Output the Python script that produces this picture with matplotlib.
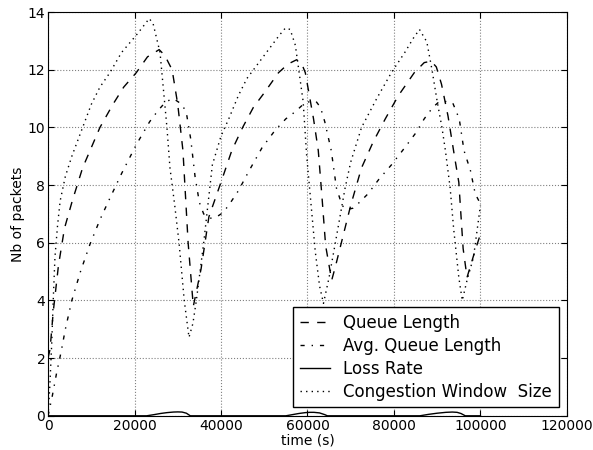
import matplotlib
matplotlib.use("Agg")
from matplotlib import pyplot as plt

# queue length (dashed)
queue_t = [0, 460, 1200, 2400, 3800, 5600, 8000, 10000, 12000, 15000, 17500, 20400,
           23000, 25700, 27000, 28700, 30000, 31200, 32400, 33600, 35400, 37200,
           40000, 42500, 45000, 47500, 50000, 53300, 55500, 57500, 58700, 59500,
           61400, 62500, 63300, 64200, 65600, 66500, 68000, 70000, 72500, 75200,
           78000, 81000, 84700, 87000, 88600, 89800, 91000, 92500, 94000, 95000,
           96000, 96900, 98500, 100000]
queue_len = [2.0, 2.3, 3.6, 5.2, 6.5, 7.45, 8.6, 9.3, 10.0, 10.8, 11.4, 11.9,
             12.45, 12.7, 12.5, 12.0, 10.8, 9.2, 6.0, 3.8, 5.1, 6.9,
             8.1, 9.2, 10.0, 10.7, 11.2, 11.9, 12.2, 12.35, 12.2, 11.9,
             10.3, 9.2, 7.7, 5.9, 4.7, 5.2, 6.1, 7.3, 8.6, 9.5,
             10.3, 11.1, 11.9, 12.25, 12.3, 12.1, 11.5, 10.4, 9.0, 8.1,
             5.8, 4.8, 5.6, 6.3]

# average queue length (dash-dot)
avg_t = [0, 1000, 2000, 3000, 4000, 5500, 7500, 9700, 12000, 14000, 17000, 20400,
         23500, 25500, 27300, 29000, 31000, 32000, 33000, 34000, 35000, 36000,
         37500, 39000, 40500, 42000, 44000, 46500, 49500, 52500, 55000, 57200,
         59000, 60500, 62000, 63000, 64000, 65500, 66700, 68000, 69000, 70500,
         72000, 74000, 76500, 79400, 82500, 85000, 87000, 89000, 90500, 92000,
         93600, 95100, 96200, 97700, 98800, 100000]
avg_len = [0.0, 0.7, 1.5, 2.2, 3.0, 4.0, 5.0, 5.95, 6.8, 7.45, 8.4, 9.4,
           10.2, 10.6, 10.9, 11.0, 10.8, 10.5, 9.6, 8.3, 7.4, 7.0,
           6.85, 6.9, 7.05, 7.35, 7.8, 8.5, 9.3, 9.9, 10.3, 10.55,
           10.8, 10.9, 10.9, 10.7, 10.2, 9.2, 7.9, 7.3, 7.15, 7.2,
           7.4, 7.7, 8.2, 8.7, 9.3, 9.8, 10.3, 10.7, 10.9, 10.9,
           10.85, 10.3, 9.2, 8.5, 7.7, 7.35]

# loss rate (solid)
loss_t = [0, 22800, 24500, 26000, 27500, 29000, 30000, 31000, 32000, 32900,
          55000, 56500, 58000, 59500, 60500, 61500, 62800, 64000, 64600,
          86000, 88000, 90000, 92000, 93500, 94600, 95500, 96500, 100000]
loss_rate = [0, 0, 0.04, 0.08, 0.11, 0.13, 0.135, 0.13, 0.09, 0,
             0, 0.04, 0.08, 0.11, 0.12, 0.12, 0.1, 0.04, 0,
             0, 0.05, 0.09, 0.12, 0.13, 0.12, 0.08, 0, 0]

# congestion window (dotted)
cwnd_t = [0, 400, 850, 1200, 1600, 2200, 2800, 4000, 5500, 8000, 10000, 12000,
          14300, 17000, 20400, 22500, 23400, 24300, 25900, 27500, 28200, 29300,
          30300, 31500, 32600, 33500, 34300, 36000, 38000, 40000, 41800, 44000,
          46000, 48000, 51000, 53500, 54900, 56000, 57200, 59000, 59800, 61800,
          62800, 63700, 65000, 66400, 68700, 70000, 72500, 76000, 79400, 82500,
          84500, 85900, 87600, 88800, 90000, 91100, 91900, 93000, 93800, 95000,
          95800, 96900, 98400, 100000]
cwnd = [0.0, 1.0, 2.5, 4.0, 5.5, 6.6, 7.45, 8.3, 9.0, 10.0, 10.8, 11.4,
        11.9, 12.6, 13.2, 13.6, 13.78, 13.6, 12.6, 10.0, 8.6, 7.3,
        6.0, 4.0, 2.72, 3.2, 4.0, 6.0, 8.7, 9.7, 10.3, 11.1,
        11.7, 12.1, 12.7, 13.2, 13.45, 13.4, 12.85, 10.9, 9.05, 5.7,
        4.5, 3.9, 4.8, 5.96, 7.9, 8.8, 10.0, 11.0, 11.9, 12.6,
        13.1, 13.4, 12.97, 12.0, 10.9, 10.0, 9.2, 7.9, 6.5, 4.8,
        4.0, 4.7, 5.5, 7.3]

fig = plt.figure(figsize=(5.93, 4.5), dpi=100)
ax = fig.add_axes([0.081, 0.076, 0.875, 0.897])

ax.plot(queue_t, queue_len, color='k', lw=1, dashes=(6, 6), label="Queue Length")
ax.plot(avg_t, avg_len, color='k', lw=1, dashes=(3, 5, 1, 5), label="Avg. Queue Length")
ax.plot(loss_t, loss_rate, color='k', lw=1, label="Loss Rate")
ax.plot(cwnd_t, cwnd, color='k', lw=1, dashes=(1, 3), label="Congestion Window  Size")

ax.set_xlim(0, 120000)
ax.set_ylim(0, 14)
ax.set_xticks(range(0, 120001, 20000))
ax.set_yticks(range(0, 15, 2))
ax.grid(True, color='0.5', linestyle=':', lw=0.8)
ax.tick_params(direction='in', top=True, right=True, labelsize=10, length=4, pad=2)
ax.set_xlabel("time (s)", fontsize=10, labelpad=1)
ax.set_ylabel("Nb of packets", fontsize=10, labelpad=2)

leg = ax.legend(loc='lower right', fontsize=12, fancybox=False,
                handlelength=1.8, framealpha=1, labelspacing=0.3)
leg.get_frame().set_edgecolor('k')

plt.savefig("out.png", dpi=100)
